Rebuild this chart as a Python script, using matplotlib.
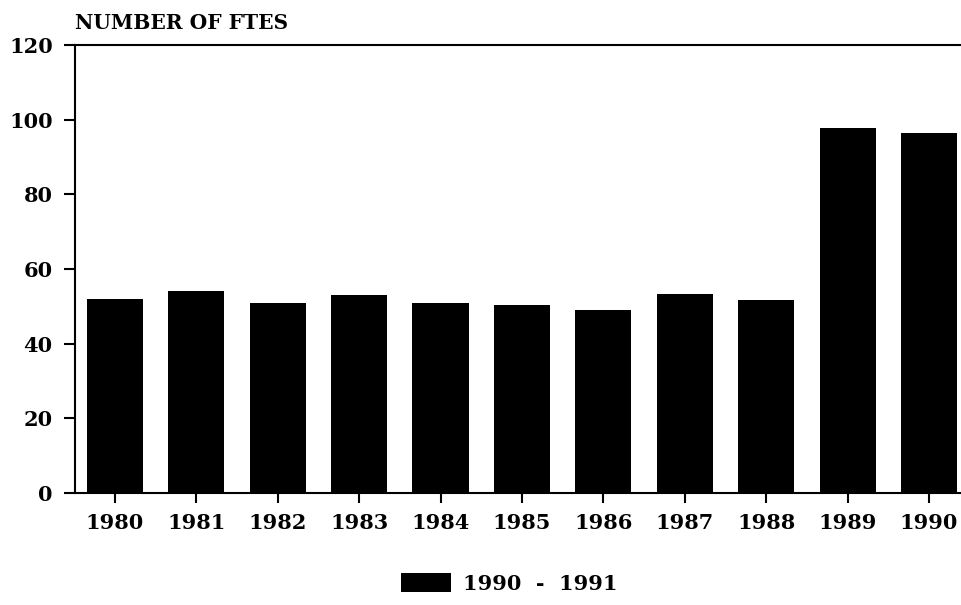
import numpy as np
import matplotlib
matplotlib.use("Agg")
import matplotlib.pyplot as plt

years = ["1980", "1981", "1982", "1983", "1984", "1985", "1986", "1987", "1988", "1989", "1990"]
ftes = [52, 54, 51, 53, 51, 50.5, 49, 53.3, 51.7, 97.8, 96.4]
series_name = "1990  -  1991"

plt.rcParams['font.family'] = ['DejaVu Serif']
plt.rcParams['font.weight'] = 'bold'

fig = plt.figure(figsize=(9.61, 6.05), dpi=100)
ax = fig.add_axes([0.078, 0.185, 0.921, 0.7405])

x = np.arange(len(years))
ax.bar(x, ftes, width=0.69, color='black', label=series_name)

ax.set_xlim(-0.49, 10.38)
ax.set_ylim(0, 120)
ax.set_yticks([0, 20, 40, 60, 80, 100, 120])
ax.set_xticks(x)
ax.set_xticklabels(years)

for s in ['left', 'bottom', 'top']:
    ax.spines[s].set_linewidth(1.5)
ax.spines['right'].set_visible(False)

ax.tick_params(axis='y', length=8, width=1.5, pad=8, labelsize=15)
ax.tick_params(axis='x', length=7, width=1.5, pad=7, labelsize=15)

fig.text(0.078, 0.945, "NUMBER OF FTES", fontsize=14.5, fontweight='bold', ha='left', va='bottom')

fig.legend(loc='lower center', bbox_to_anchor=(0.53, -0.012), frameon=False, fontsize=15,
           handlelength=2.4, handleheight=1.0, handletextpad=0.6)

fig.savefig("out.png", dpi=100)
